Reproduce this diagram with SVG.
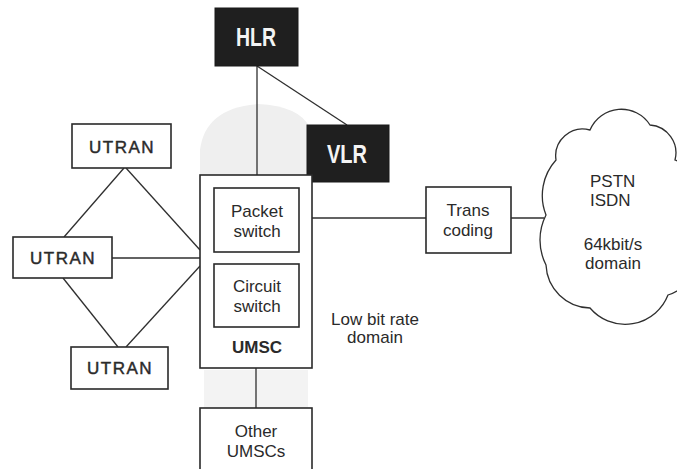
<svg xmlns="http://www.w3.org/2000/svg" width="677" height="469" viewBox="0 0 677 469">
<style>
  .box{fill:#ffffff;stroke:#2a2a2a;stroke-width:1.6}
  .dark{fill:#1f1f1f;stroke:#1a1a1a;stroke-width:1}
  .ln{stroke:#2f2f2f;stroke-width:1.3;fill:none}
  .t{font-family:"Liberation Sans",Arial,sans-serif;font-size:17px;fill:#2a2a2a;text-anchor:middle}
  .b{font-size:17px;letter-spacing:1.5px;stroke:#2a2a2a;stroke-width:0.45}
  .w{font-family:"Liberation Sans",Arial,sans-serif;font-weight:bold;font-size:26px;fill:#f4f4f4;text-anchor:middle}
</style>
<rect width="677" height="469" fill="#ffffff"/>
<g id="shading" fill="#efefef">
  <path d="M200,175 L200,150 Q205,108 258,104 Q300,106 310,128 L310,175 Z"/>
  <rect x="204" y="370" width="104" height="38" fill="#f3f3f3"/>
</g>
<g id="connectors">
  <line class="ln" x1="257" y1="66" x2="257" y2="175"/>
  <line class="ln" x1="257" y1="66" x2="347" y2="125"/>
  <line class="ln" x1="124" y1="168" x2="64" y2="237"/>
  <line class="ln" x1="126" y1="168" x2="200" y2="250"/>
  <line class="ln" x1="112" y1="258" x2="200" y2="258"/>
  <line class="ln" x1="63" y1="278" x2="118" y2="347"/>
  <line class="ln" x1="126" y1="347" x2="200" y2="266"/>
  <line class="ln" x1="256" y1="368" x2="256" y2="408"/>
  <line class="ln" x1="312" y1="218" x2="426" y2="218"/>
  <line class="ln" x1="511" y1="218" x2="544" y2="218"/>
</g>
<g id="hlr">
  <rect class="dark" x="215" y="8" width="83" height="58"/>
  <text class="w" x="256" y="46" textLength="40" lengthAdjust="spacingAndGlyphs">HLR</text>
</g>
<g id="vlr">
  <rect class="dark" x="307" y="125" width="82" height="57"/>
  <text class="w" x="347" y="163" textLength="40" lengthAdjust="spacingAndGlyphs">VLR</text>
</g>
<g id="utran-top">
  <rect class="box" x="72" y="124" width="99" height="44"/>
  <text class="t b" x="122" y="153">UTRAN</text>
</g>
<g id="utran-mid">
  <rect class="box" x="13" y="237" width="99" height="41"/>
  <text class="t b" x="63" y="264">UTRAN</text>
</g>
<g id="utran-bottom">
  <rect class="box" x="71" y="347" width="97" height="42"/>
  <text class="t b" x="120" y="374">UTRAN</text>
</g>
<g id="umsc">
  <rect class="box" x="200" y="175" width="112" height="193"/>
  <text class="t" x="257" y="353" style="font-weight:bold">UMSC</text>
</g>
<g id="packet-switch">
  <rect class="box" x="214" y="188" width="85" height="64"/>
  <text class="t" x="257" y="217">Packet</text>
  <text class="t" x="257" y="237">switch</text>
</g>
<g id="circuit-switch">
  <rect class="box" x="214" y="264" width="85" height="63"/>
  <text class="t" x="257" y="292">Circuit</text>
  <text class="t" x="257" y="312">switch</text>
</g>
<g id="other-umscs">
  <rect class="box" x="200" y="408" width="112" height="70"/>
  <text class="t" x="256" y="437">Other</text>
  <text class="t" x="256" y="457">UMSCs</text>
</g>
<g id="transcoding">
  <rect class="box" x="426" y="187" width="85" height="66"/>
  <text class="t" x="468" y="216">Trans</text>
  <text class="t" x="468" y="236">coding</text>
</g>
<g id="pstn-cloud">
  <path class="ln" fill="#ffffff" d="M546,265 A55 55 0 0 1 546,215 A53 53 0 0 1 556,160 A27 27 0 0 1 590,130 A34 34 0 0 1 650,125 A28 28 0 0 1 675,160 A40 40 0 0 1 686,230 A40 40 0 0 1 668,295 A46 46 0 0 1 590,308 A45 45 0 0 1 546,265 Z"/>
  <text class="t" x="590" y="187" style="text-anchor:start">PSTN</text>
  <text class="t" x="590" y="206" style="text-anchor:start">ISDN</text>
  <text class="t" x="613" y="250">64kbit/s</text>
  <text class="t" x="613" y="269">domain</text>
</g>
<g id="low-bit-rate-label">
  <text class="t" x="375" y="325">Low bit rate</text>
  <text class="t" x="375" y="343">domain</text>
</g>
</svg>
